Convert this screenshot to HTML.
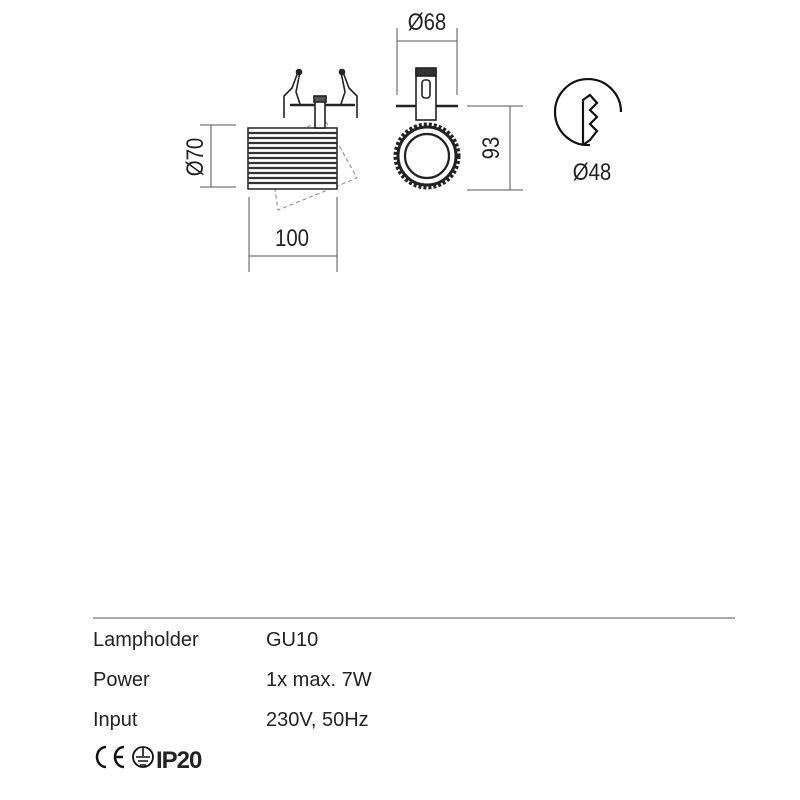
<!DOCTYPE html>
<html><head><style>
body{margin:0;background:#fff;width:800px;height:800px;overflow:hidden}
svg{position:absolute;left:0;top:0}
text{font-family:"Liberation Sans",sans-serif;fill:#222}
</style></head><body>
<svg width="800" height="800" viewBox="0 0 800 800">
<g stroke="#555" stroke-width="1" fill="none">
<line x1="200" y1="125" x2="236" y2="125"/><line x1="200" y1="187" x2="236" y2="187"/>
<line x1="211" y1="125" x2="211" y2="187"/>
<line x1="249" y1="197" x2="249" y2="272"/><line x1="337" y1="197" x2="337" y2="272"/>
<line x1="249" y1="256" x2="337" y2="256"/>
<line x1="397" y1="28" x2="397" y2="95"/><line x1="457" y1="28" x2="457" y2="95"/>
<line x1="397" y1="41" x2="457" y2="41"/>
<line x1="467" y1="106" x2="523" y2="106"/><line x1="467" y1="190" x2="523" y2="190"/>
<line x1="510" y1="106" x2="510" y2="190"/>
</g>
<polygon points="268,142 325,120 357,178 278,210" fill="none" stroke="#999" stroke-width="1.2" stroke-dasharray="4,3"/>
<rect x="248" y="128" width="89" height="61" fill="#fff" stroke="#222" stroke-width="1.5"/>
<g stroke="#333" stroke-width="2.2">
<line x1="248" y1="133" x2="337" y2="133"/><line x1="248" y1="138" x2="337" y2="138"/><line x1="248" y1="143" x2="337" y2="143"/><line x1="248" y1="148" x2="337" y2="148"/><line x1="248" y1="153" x2="337" y2="153"/><line x1="248" y1="158" x2="337" y2="158"/><line x1="248" y1="163" x2="337" y2="163"/><line x1="248" y1="168" x2="337" y2="168"/><line x1="248" y1="173" x2="337" y2="173"/><line x1="248" y1="178" x2="337" y2="178"/><line x1="248" y1="183" x2="337" y2="183"/>
</g>
<g stroke="#222" stroke-width="1.6" fill="none">
<line x1="290" y1="105" x2="355" y2="105" stroke-width="2.5"/>
<rect x="315" y="100" width="10" height="28" fill="#fff"/>
<rect x="314" y="96" width="12" height="6" fill="#555"/>
<path d="M298,72 L292,88 L284,96 L284,118"/><path d="M300,72 L296,92 L300,104"/>
<path d="M343,72 L349,88 L357,96 L357,118"/><path d="M341,72 L345,92 L341,104"/>
<circle cx="299" cy="72" r="2.5" fill="#222"/><circle cx="342" cy="72" r="2.5" fill="#222"/>
</g>
<g stroke="#222" stroke-width="1.6" fill="none">
<line x1="396" y1="106" x2="458" y2="106" stroke-width="2.5"/>
<rect x="416" y="70" width="20" height="50" fill="#fff"/>
<rect x="416" y="68" width="20" height="8" fill="#333"/>
<rect x="422" y="80" width="8" height="18" rx="3"/>
<circle cx="427" cy="156" r="31.5" stroke-width="4" stroke-dasharray="3,2"/>
<circle cx="427" cy="156" r="29" stroke-width="3"/>
<circle cx="427" cy="156" r="22" stroke-width="2.2"/>
</g>
<g stroke="#111" stroke-width="2.2" fill="none">
<path d="M621,112 A33,33 0 1 0 590,145"/>
<path d="M583,145 L583,100 L590,95 L597,103 L590,110 L597,117 L590,124 L597,131 L590,140 L583,145"/>
</g>
<g font-size="24">
<text x="427" y="30" text-anchor="middle" transform="translate(427,0) scale(0.85,1) translate(-427,0)">Ø68</text>
<text x="592" y="180" text-anchor="middle" transform="translate(592,0) scale(0.85,1) translate(-592,0)">Ø48</text>
<text x="292" y="246" text-anchor="middle" transform="translate(292,0) scale(0.85,1) translate(-292,0)">100</text>
<text transform="translate(203,157) rotate(-90) scale(0.85,1)" text-anchor="middle">Ø70</text>
<text transform="translate(499,148) rotate(-90) scale(0.85,1)" text-anchor="middle">93</text>
</g>
<line x1="93" y1="618" x2="735" y2="618" stroke="#777" stroke-width="1.2"/>
<g font-size="20" fill="#333">
<text x="93" y="646">Lampholder</text><text x="266" y="646">GU10</text>
<text x="93" y="686">Power</text><text x="266" y="686">1x max. 7W</text>
<text x="93" y="726">Input</text><text x="266" y="726">230V, 50Hz</text>
</g>
<g stroke="#111" stroke-width="2.5" fill="none">
<path d="M106,747 A9,10 0 0 0 106,767"/>
<path d="M124,747 A9,10 0 0 0 124,767 M116,757 L123,757"/>
<circle cx="143" cy="757" r="10" stroke-width="1.8"/>
<path d="M143,748 L143,756 M136,757 L150,757 M138,761 L148,761 M140,765 L146,765" stroke-width="1.6"/>
</g>
<text x="156" y="768" font-size="24" font-weight="bold" fill="#111" style="letter-spacing:-1px">IP20</text>
</svg>
</body></html>
